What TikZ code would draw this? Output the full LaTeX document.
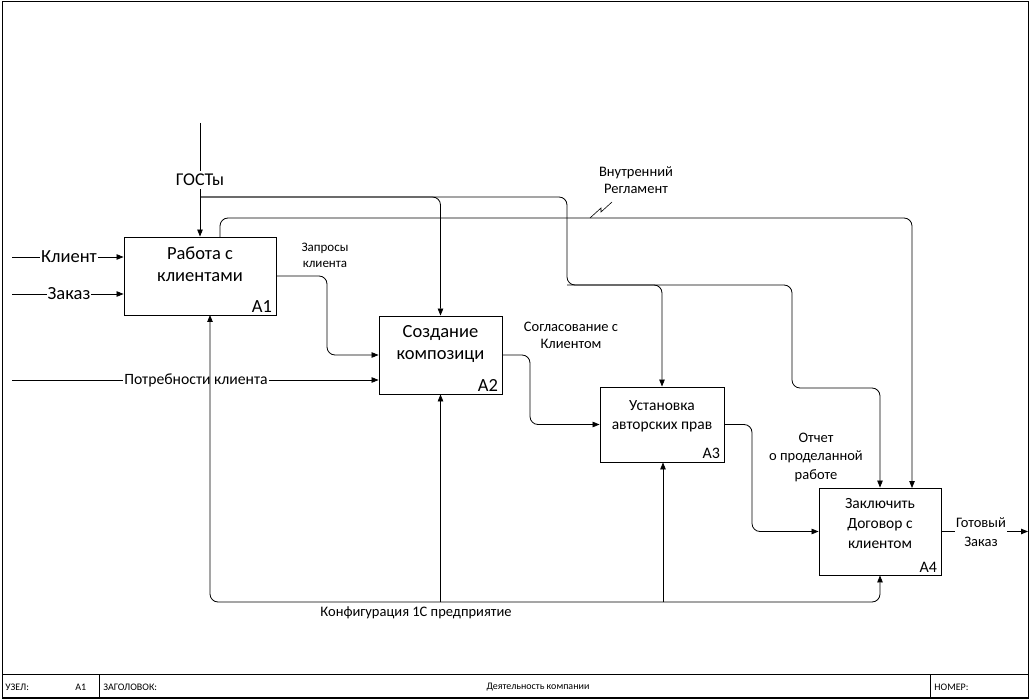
\documentclass[tikz,border=0pt]{standalone}
\usepackage{fontspec}
\setmainfont{Carlito}
\usetikzlibrary{arrows.meta,calc}
\begin{document}
\begin{tikzpicture}[x=1pt,y=-1pt,
  line width=0.8pt,
  arr/.style={-{Triangle[length=7pt,width=5.5pt]}},
  proc/.style={draw,line width=0.9pt,minimum width=#1,inner sep=0pt,anchor=center},
  boxtxt/.style={align=center,font=\fontsize{18.5}{22}\selectfont},
  boxtxts/.style={align=center,font=\fontsize{15.5}{19.5}\selectfont},
  lbl/.style={align=center,font=\fontsize{14.5}{17}\selectfont,inner sep=1pt},
  lblw/.style={lbl,fill=white},
  num/.style={font=\fontsize{18.5}{20}\selectfont,inner sep=0pt},
  tb/.style={font=\fontsize{10}{12}\selectfont,inner sep=0pt,anchor=west},
  rc/.style={rounded corners=8pt}]
\useasboundingbox (0,0) rectangle (1031,700);
% frame
\draw[line width=0.8pt] (2,1) rectangle (1028,698);
\draw[line width=1.6pt] (2,697.5) -- (1028,697.5);
\draw (2,674) -- (1028,674);
\draw (99,674) -- (99,698);
\draw (930,674) -- (930,698);
\node[tb] (tU) at (5,687) {УЗЕЛ:};
\node[tb] (tA) at (75,687) {А1};
\node[tb] (tZ) at (103,687) {ЗАГОЛОВОК:};
\node[tb,anchor=center] (tD) at (538,687) {Деятельность компании};
\node[tb] (tN) at (934,687) {НОМЕР:};

% boxes
\node[proc=152pt,minimum height=78pt] (A1) at (200,276) {};
\node[proc=123pt,minimum height=78pt] (A2) at (440.5,355) {};
\node[proc=124pt,minimum height=75pt] (A3) at (662,424.5) {};
\node[proc=122pt,minimum height=87pt] (A4) at (880,531.5) {};
\node[boxtxt] (t1) at (200,264.5) {Работа с\\клиентами};
\node[boxtxt] (t2) at (440.5,344) {Создание\\композици};
\node[boxtxts] (t3) at (662,416.5) {Установка\\авторских прав};
\node[boxtxts,font=\fontsize{15.5}{20}\selectfont] (t4) at (880,524) {Заключить\\Договор с\\клиентом};
\node[num,anchor=south east] (n1) at ($(A1.south east)+(-4,-3)$) {А1};
\node[num,anchor=south east] (n2) at ($(A2.south east)+(-4,-3)$) {А2};
\node[num,anchor=south east,font=\fontsize{16}{18}\selectfont] (n3) at ($(A3.south east)+(-4,-3)$) {А3};
\node[num,anchor=south east,font=\fontsize{16}{18}\selectfont] (n4) at ($(A4.south east)+(-4,-3)$) {А4};

% inputs
\coordinate (iK) at (12,257);
\coordinate (iZ) at (12,294);
\coordinate (iP) at (12,380);
\draw[arr] (iK) -- (A1.west |- iK);
\draw[arr] (iZ) -- (A1.west |- iZ);
\draw[arr] (iP) -- (A2.west |- iP);
\node[lblw,font=\fontsize{18.5}{20}\selectfont] (lK) at (69,257) {Клиент};
\node[lblw,font=\fontsize{18.5}{20}\selectfont] (lZ) at (69,294) {Заказ};
\node[lblw,font=\fontsize{15.7}{18}\selectfont] (lP) at (196,380) {Потребности клиента};

% ГОСТы control
\coordinate (gT) at (200,123);
\coordinate (gB) at (200,197);
\coordinate (gS) at (567,285);
\coordinate (gR) at (792,388);
\draw[arr] (gT) -- (A1.north);
\node[lblw,font=\fontsize{18}{20}\selectfont,inner sep=3pt] (lG) at (200,180) {ГОСТы};
\draw[arr,rc] (gB) -| (A2.north);
\draw[arr,rc] (gB) -| (gS) -| (A3.north);
\draw[arr,rc] (gS) -| (gR) -| (A4.north);

% Внутренний Регламент
\coordinate (vS) at (220,237);
\coordinate (vT) at (220,218);
\coordinate (vA) at (912,488);
\draw[arr,rc] (vS) -- (vT) -| (vA);
\node[lbl] (lV) at (636,180) {Внутренний\\Регламент};
\coordinate (sq1) at (590,218);
\coordinate (sq2) at (612,202);
\draw[line width=0.6pt] (sq1) -- (601,208) -- (601,212) -- (sq2);

% outputs
\coordinate (q1) at (327,276);
\draw[arr,rc] (A1.east) -- (q1) |- (A2.west);
\node[lbl,font=\fontsize{13}{16}\selectfont] (lQ) at (325,255) {Запросы\\клиента};
\coordinate (s1) at (530,355);
\draw[arr,rc] (A2.east) -- (s1) |- (A3.west);
\node[lbl] (lS) at (571,335) {Согласование с\\Клиентом};
\coordinate (o1) at (752,424.5);
\draw[arr,rc] (A3.east) -- (o1) |- (A4.west);
\node[lbl,font=\fontsize{14.5}{18.5}\selectfont] (lO) at (816,457) {Отчет\\о проделанной\\работе};
\coordinate (gz) at (1028,531.5);
\draw[arr] (A4.east) -- (gz);
\node[lblw,font=\fontsize{14.5}{19}\selectfont] (lGZ) at (981,532) {Готовый\\Заказ};

% mechanism
\coordinate (m1) at (210,315);
\coordinate (mB) at (880,602);
\coordinate (m2) at (440.5,602);
\coordinate (m3) at (663,602);
\draw[{Triangle[length=7pt,width=5.5pt]}-{Triangle[length=7pt,width=5.5pt]},rc] (m1) |- (mB) -- (A4.south);
\draw[arr] (m2) -- (A2.south);
\draw[arr] (m3) -- (A3.south -| m3);
\node[lbl,font=\fontsize{14.5}{16}\selectfont] (lM) at (416,613) {Конфигурация 1С предприятие};
\end{tikzpicture}
\end{document}
